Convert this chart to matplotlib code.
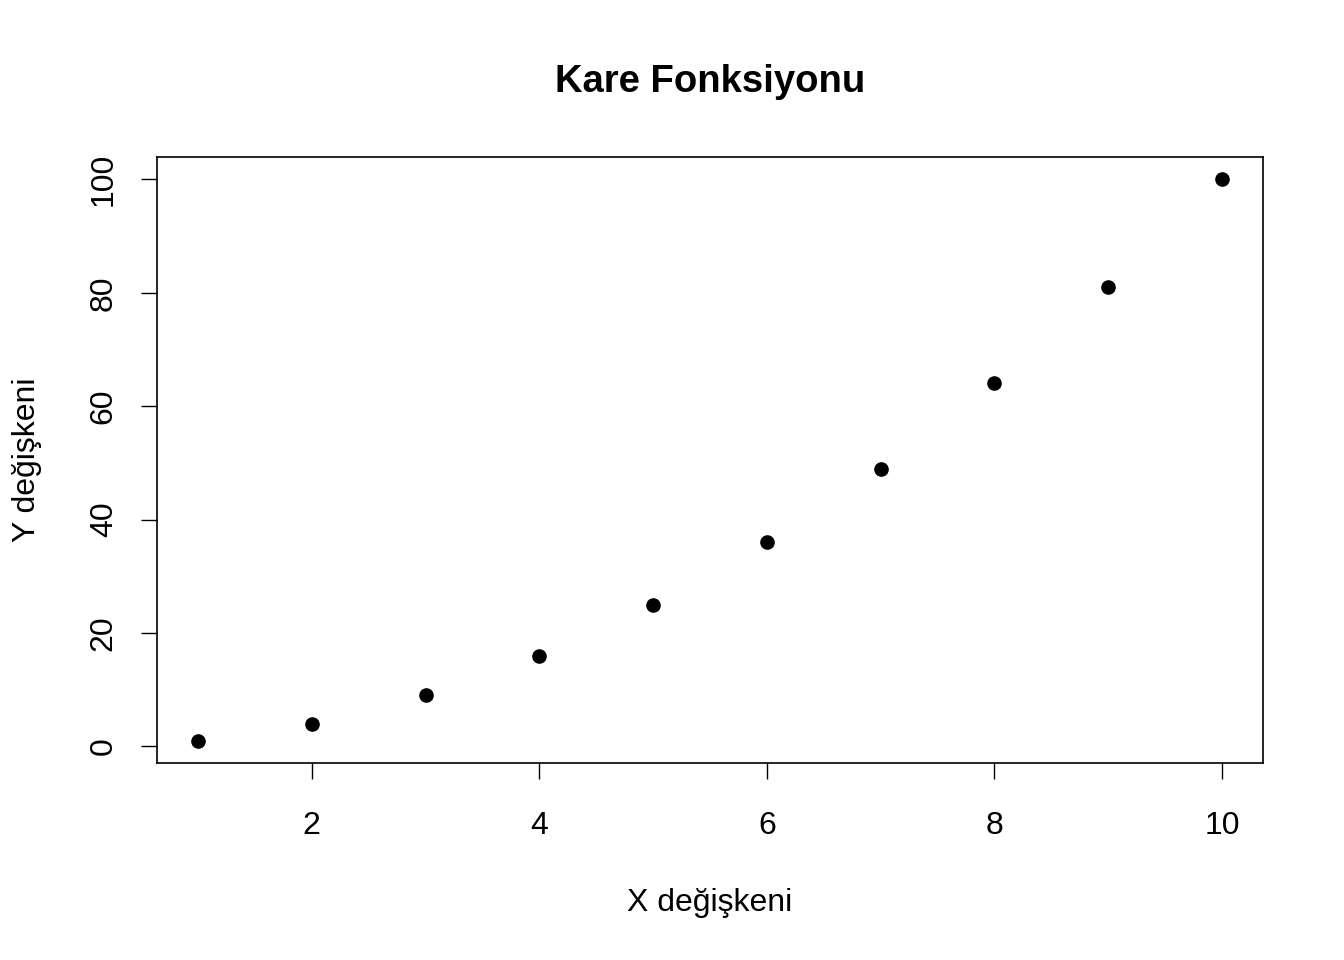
import matplotlib
matplotlib.use("Agg")
import matplotlib.pyplot as plt

# data: square function
x_vals = [1, 2, 3, 4, 5, 6, 7, 8, 9, 10]
y_vals = [1, 4, 9, 16, 25, 36, 49, 64, 81, 100]
x_ticks = [2, 4, 6, 8, 10]
y_ticks = [0, 20, 40, 60, 80, 100]

plt.rcParams['font.family'] = ['Liberation Sans', 'DejaVu Sans']

fig = plt.figure(figsize=(13.44, 9.6), dpi=100)
ax = fig.add_axes([157 / 1344, 1 - 763 / 960, (1263 - 157) / 1344, (763 - 157) / 960])

ax.plot(x_vals, y_vals, 'o', color='black', markersize=9.5)

# R-style 4% expansion of the data range
xspan = max(x_vals) - min(x_vals)
yspan = max(y_vals) - min(y_vals)
ax.set_xlim(min(x_vals) - 0.04 * xspan, max(x_vals) + 0.04 * xspan)
ax.set_ylim(min(y_vals) - 0.04 * yspan, max(y_vals) + 0.04 * yspan)

ax.set_xticks(x_ticks)
ax.set_yticks(y_ticks)
ax.set_yticklabels([str(v) for v in y_ticks], rotation=90, va='center')
ax.tick_params(direction='out', length=11.5, width=1, labelsize=23)
ax.tick_params(axis='x', pad=23)
ax.tick_params(axis='y', pad=16)
for s in ax.spines.values():
    s.set_linewidth(1.2)

ax.set_xlabel('X değişkeni', fontsize=23, labelpad=34)
ax.set_ylabel('Y değişkeni', fontsize=23, labelpad=34)
fig.text(710 / 1344, 1 - 82 / 960, 'Kare Fonksiyonu', fontsize=27.5,
         fontweight='bold', ha='center', va='center')

fig.savefig('out.png', dpi=100)
